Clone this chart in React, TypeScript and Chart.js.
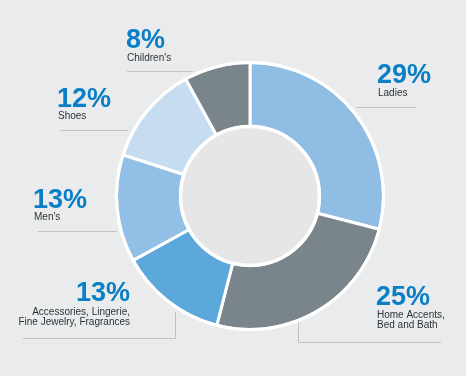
import React, { useEffect, useRef } from "react";
import { Chart, registerables } from "chart.js";

Chart.register(...registerables);

const categories = [
  "Ladies",
  "Home Accents, Bed and Bath",
  "Accessories, Lingerie, Fine Jewelry, Fragrances",
  "Men's",
  "Shoes",
  "Children's",
];
const shares = [29, 25, 13, 13, 12, 8];
const colors = ["#8fbde4", "#7a858b", "#5ca8da", "#92bfe6", "#c6ddf1", "#7a858b"];
const percentLabels = ["29%", "25%", "13%", "13%", "12%", "8%"];
const nameLines = [
  ["Ladies"],
  ["Home Accents,", "Bed and Bath"],
  ["Accessories, Lingerie,", "Fine Jewelry, Fragrances"],
  ["Men's"],
  ["Shoes"],
  ["Children's"],
];

// label layout: [x, pctBaseline, align, firstLineBaseline, lineGap, leader polyline]
type Lay = { x: number; py: number; align: CanvasTextAlign; ny: number; gap: number; lead: number[][] };
const layouts: Lay[] = [
  { x: 377, py: 83, align: "left", ny: 96, gap: 10, lead: [[356, 107.5], [416, 107.5]] },
  { x: 376, py: 305, align: "left", ny: 318, gap: 10, lead: [[298.5, 322], [298.5, 342.5], [441, 342.5]] },
  { x: 130, py: 301, align: "right", ny: 315, gap: 10, lead: [[175.5, 312], [175.5, 338.5], [23, 338.5]] },
  { x: 33, py: 208, align: "left", ny: 220, gap: 10, lead: [[38, 231.5], [117, 231.5]] },
  { x: 57, py: 107, align: "left", ny: 119, gap: 10, lead: [[60, 130.5], [128, 130.5]] },
  { x: 126, py: 48, align: "left", ny: 61, gap: 10, lead: [[127, 71.5], [193, 71.5]] },
];

const bgPlugin = {
  id: "bg",
  beforeDraw(chart: any) {
    const ctx = chart.ctx;
    ctx.save();
    ctx.fillStyle = "#ffffff";
    ctx.fillRect(0, 0, chart.width, chart.height);
    ctx.fillStyle = "#e9ebec";
    ctx.fillRect(0, 0, 466, chart.height);
    // leader lines
    ctx.strokeStyle = "#bfc3c6";
    ctx.lineWidth = 1;
    layouts.forEach((l) => {
      ctx.beginPath();
      l.lead.forEach((p, i) => (i === 0 ? ctx.moveTo(p[0], p[1]) : ctx.lineTo(p[0], p[1])));
      ctx.stroke();
    });
    ctx.restore();
  },
  afterDatasetsDraw(chart: any) {
    const ctx = chart.ctx;
    const meta = chart.getDatasetMeta(0);
    const arc = meta.data[0];
    if (!arc) return;
    const { x, y, innerRadius, outerRadius } = arc.getProps(["x", "y", "innerRadius", "outerRadius"], true);
    ctx.save();
    ctx.beginPath();
    ctx.arc(x, y, outerRadius, 0, Math.PI * 2);
    ctx.strokeStyle = "#ffffff";
    ctx.lineWidth = 3;
    ctx.stroke();
    ctx.beginPath();
    ctx.arc(x, y, innerRadius, 0, Math.PI * 2);
    ctx.fillStyle = "#e6e6e6";
    ctx.fill();
    ctx.strokeStyle = "#ffffff";
    ctx.lineWidth = 3.5;
    ctx.stroke();

    // labels
    layouts.forEach((l, i) => {
      ctx.textAlign = l.align;
      ctx.textBaseline = "alphabetic";
      ctx.fillStyle = "#0a7fc6";
      ctx.font = "bold 27px 'Liberation Sans', Arial, sans-serif";
      ctx.fillText(percentLabels[i], l.x, l.py);
      ctx.fillStyle = "#2f3336";
      ctx.font = "10px 'Liberation Sans', Arial, sans-serif";
      nameLines[i].forEach((t, j) => {
        ctx.fillText(t, l.align === "left" ? l.x + 1 : l.x, l.ny + j * l.gap);
      });
    });
    ctx.restore();
  },
};

export default function App() {
  const ref = useRef<HTMLCanvasElement | null>(null);
  useEffect(() => {
    document.body.style.margin = "0";
    const chart = new Chart(ref.current as HTMLCanvasElement, {
      type: "doughnut",
      data: {
        labels: categories,
        datasets: [
          {
            data: shares,
            backgroundColor: colors,
            borderColor: "#ffffff",
            borderWidth: 3,
            hoverOffset: 0,
          },
        ],
      },
      options: {
        animation: false,
        responsive: false,
        cutout: "52%",
        layout: { padding: { left: 115, right: 83, top: 61, bottom: 45 } },
        plugins: {
          legend: { display: false },
          tooltip: { enabled: false },
        },
      },
      plugins: [bgPlugin],
    });
    return () => chart.destroy();
  }, []);
  return (
    <div style={{ width: 468, height: 376 }}>
      <canvas ref={ref} width={468} height={376} style={{ display: "block" }} />
    </div>
  );
}
